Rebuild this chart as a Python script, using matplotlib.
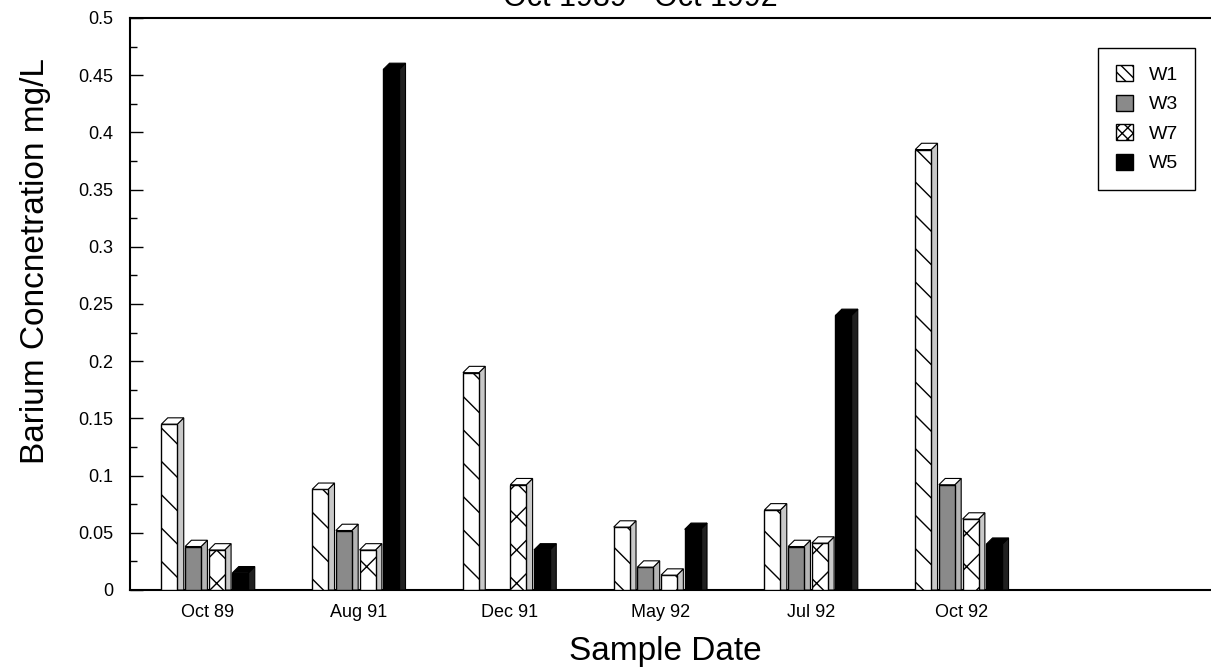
import matplotlib
matplotlib.use("Agg")
import matplotlib.pyplot as plt
from matplotlib.patches import Polygon
from matplotlib.ticker import MultipleLocator
import numpy as np

# Barium concentration (mg/L) per well and sampling date
dates = ["Oct 89", "Aug 91", "Dec 91", "May 92", "Jul 92", "Oct 92"]
wells = ["W1", "W3", "W7", "W5"]
w1 = [0.145, 0.088, 0.190, 0.055, 0.070, 0.385]
w3 = [0.038, 0.052, 0.000, 0.020, 0.038, 0.092]
w7 = [0.035, 0.035, 0.092, 0.013, 0.041, 0.062]
w5 = [0.015, 0.455, 0.035, 0.053, 0.240, 0.040]
series = [w1, w3, w7, w5]

plt.rcParams["font.family"] = ["Liberation Sans", "DejaVu Sans"]
plt.rcParams["hatch.linewidth"] = 1.0

styles = [
    dict(face="white", hatch="\\", side="#c8c8c8"),
    dict(face="#8a8a8a", hatch="", side="#b5b5b5"),
    dict(face="white", hatch="x", side="#c8c8c8"),
    dict(face="black", hatch="", side="#202020"),
]

fig = plt.figure(figsize=(12.11, 6.72), dpi=100)
ax = fig.add_axes([130 / 1211, 1 - 590 / 672, 1085 / 1211, 572 / 672])

x = np.arange(len(dates))
step = 0.157
width = 0.106
dx = 0.042          # depth of the pseudo-3D faces (x units)
dy = 0.0055         # depth of the pseudo-3D faces (y units)

for i, (vals, name, st) in enumerate(zip(series, wells, styles)):
    pos = x + (i - 1.5) * step - 0.02
    bars = ax.bar(pos, vals, width, color=st["face"], hatch=st["hatch"],
                  edgecolor="black", linewidth=1.0, label=name, zorder=3)
    for rect in bars:
        h = rect.get_height()
        if h <= 0:
            continue
        x0 = rect.get_x()
        x1 = x0 + rect.get_width()
        side = Polygon([(x1, 0), (x1 + dx, 0), (x1 + dx, h + dy), (x1, h)],
                       closed=True, facecolor=st["side"], edgecolor="black",
                       linewidth=0.8, zorder=2.9)
        top = Polygon([(x0, h), (x0 + dx, h + dy), (x1 + dx, h + dy), (x1, h)],
                      closed=True, facecolor="white" if st["face"] != "black" else "black",
                      edgecolor="black", linewidth=0.8, zorder=3.1)
        ax.add_patch(side)
        ax.add_patch(top)

ax.set_xlim(-0.517, 6.68)
ax.set_ylim(0, 0.5)
ax.set_xticks(x)
ax.set_xticklabels(dates, fontsize=13)
ax.tick_params(axis="x", length=0, pad=10)

ax.yaxis.set_major_locator(MultipleLocator(0.05))
ax.yaxis.set_minor_locator(MultipleLocator(0.025))
ax.set_yticks(np.arange(0, 0.501, 0.05))
ax.set_yticklabels(["0", "0.05", "0.1", "0.15", "0.2", "0.25", "0.3",
                    "0.35", "0.4", "0.45", "0.5"], fontsize=13)
ax.tick_params(axis="y", which="major", direction="in", length=9, width=1, pad=12)
ax.tick_params(axis="y", which="minor", direction="in", length=5, width=1)

for s in ["left", "bottom", "top"]:
    ax.spines[s].set_linewidth(1.5)
ax.spines["right"].set_visible(False)

ax.set_ylabel("Barium Concnetration mg/L", fontsize=24)
ax.yaxis.set_label_coords(-0.073, 0.575)
ax.set_xlabel("Sample Date", fontsize=24)
ax.xaxis.set_label_coords(0.493, -0.08)

fig.text(640 / 1211, 1 - 6 / 672, "Oct 1989 - Oct 1992", fontsize=22,
         ha="center", va="baseline")

leg = ax.legend(loc="upper right", bbox_to_anchor=(0.982, 0.948),
                borderaxespad=0, fontsize=14, fancybox=False, framealpha=1,
                edgecolor="black", handlelength=0.9, handleheight=0.9,
                handletextpad=0.8, labelspacing=0.55, borderpad=0.9)
leg.get_frame().set_linewidth(1.0)
# denser hatching so the small legend swatches show their pattern
for handle, st in zip(leg.legend_handles, styles):
    if st["hatch"]:
        handle.set_hatch(st["hatch"] * 3)

fig.savefig("out.png", dpi=100)
